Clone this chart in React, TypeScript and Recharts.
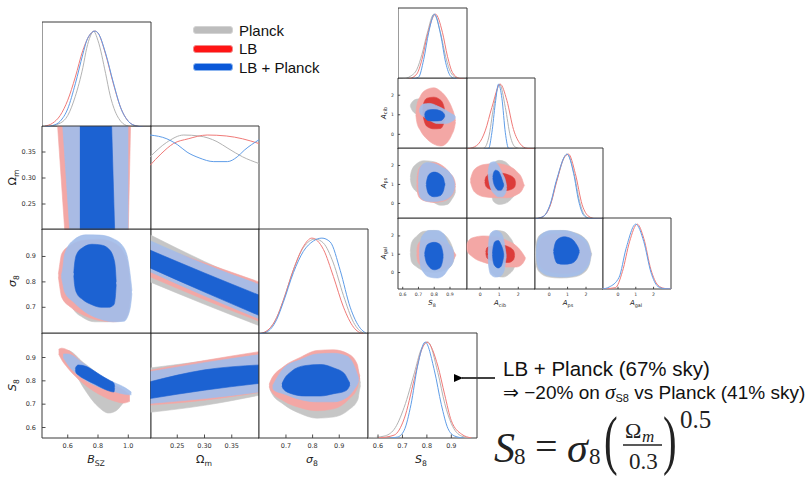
import React from 'react';
import { ComposedChart, XAxis, YAxis, Area, Line, ReferenceArea } from 'recharts';

// ---------- axis ranges & tick labels ----------
const bszTicks = [0.6, 0.8, 1.0];
const omTicks = [0.25, 0.3, 0.35];
const sigTicks = [0.7, 0.8, 0.9];
const s8Ticks = [0.6, 0.7, 0.8, 0.9];
const aTicks = [0, 1, 2];

const bszDom: [number, number] = [0.43, 1.15];
const omDom: [number, number] = [0.2, 0.4];
const sigDom: [number, number] = [0.595, 1.008];
const s8Dom: [number, number] = [0.555, 1.005];
const s8SmallDom: [number, number] = [0.57, 1.008];
const acibDom: [number, number] = [-0.75, 2.88];
const apsDom: [number, number] = [-0.82, 2.92];
const agalDom: [number, number] = [-0.9, 2.98];
const pdfDom: [number, number] = [0, 1.095];

// ---------- 1D marginals (big triangle) ----------
const bszGray = [[0.45,0],[0.55,0.04],[0.6,0.12],[0.65,0.32],[0.7,0.62],[0.725,0.82],[0.75,0.95],[0.77,1.0],[0.8,0.9],[0.85,0.56],[0.88,0.33],[0.9,0.22],[0.95,0.06],[1.0,0.01],[1.05,0]];
const bszRed = [[0.45,0.01],[0.5,0.04],[0.55,0.12],[0.6,0.28],[0.65,0.52],[0.7,0.8],[0.75,0.97],[0.78,1.0],[0.8,0.98],[0.85,0.76],[0.9,0.46],[0.95,0.2],[1.0,0.06],[1.05,0.012],[1.1,0]];
const bszBlue = [[0.45,0],[0.5,0.015],[0.55,0.06],[0.6,0.19],[0.65,0.45],[0.7,0.76],[0.725,0.9],[0.75,0.97],[0.78,1.0],[0.8,0.98],[0.85,0.77],[0.9,0.47],[0.95,0.2],[1.0,0.06],[1.05,0.012],[1.1,0]];

const omGray = [[0.2,0.77],[0.23,0.92],[0.262,1.0],[0.29,0.99],[0.323,0.93],[0.343,0.86],[0.37,0.77],[0.4,0.7]];
const omRed = [[0.2,0.68],[0.22,0.8],[0.243,0.91],[0.27,0.96],[0.305,1.0],[0.34,0.99],[0.37,0.96],[0.4,0.91]];
const omBlue = [[0.2,1.0],[0.231,0.96],[0.25,0.9],[0.268,0.82],[0.29,0.76],[0.317,0.72],[0.342,0.72],[0.36,0.77],[0.373,0.84],[0.4,0.95]];

const sigGray = [[0.595,0],[0.627,0.03],[0.665,0.17],[0.69,0.35],[0.728,0.67],[0.765,0.9],[0.81,0.99],[0.84,0.95],[0.878,0.74],[0.916,0.4],[0.954,0.12],[0.99,0.01],[1.0,0]];
const sigRed = [[0.595,0],[0.627,0.03],[0.665,0.17],[0.69,0.35],[0.728,0.67],[0.765,0.91],[0.797,1.0],[0.841,0.88],[0.878,0.6],[0.916,0.28],[0.954,0.07],[0.99,0]];
const sigBlue = [[0.595,0],[0.627,0.02],[0.665,0.15],[0.69,0.33],[0.728,0.64],[0.765,0.86],[0.803,0.97],[0.835,1.0],[0.866,0.96],[0.904,0.66],[0.941,0.28],[0.979,0.06],[1.0,0.01]];

const s8Gray = [[0.56,0],[0.625,0.02],[0.666,0.09],[0.707,0.32],[0.749,0.68],[0.776,0.92],[0.804,1.0],[0.845,0.68],[0.873,0.36],[0.9,0.15],[0.942,0.02],[0.98,0]];
const s8Red = [[0.6,0],[0.666,0.03],[0.707,0.2],[0.749,0.62],[0.776,0.9],[0.8,1.0],[0.845,0.75],[0.873,0.45],[0.9,0.18],[0.942,0.04],[0.983,0]];
const s8Blue = [[0.65,0],[0.68,0.01],[0.707,0.08],[0.735,0.35],[0.762,0.75],[0.793,1.0],[0.831,0.7],[0.859,0.35],[0.886,0.1],[0.914,0.02],[0.95,0]];

// ---------- 2D contours (big triangle): [x, low, high] ----------
const obRed95 = [[0.533,0.4,0.4],[0.58,0.2,0.4],[1.0,0.2,0.4],[1.015,0.4,0.4]];
const obBlue95 = [[0.567,0.4,0.4],[0.613,0.2,0.4],[1.0,0.2,0.4]];
const obBlue68 = [[0.68,0.2,0.4],[0.89,0.2,0.4],[0.91,0.2,0.2]];

const sbGray95 = [[0.59,0.8,0.81],[0.6,0.75,0.86],[0.63,0.7,0.92],[0.7,0.66,0.95],[0.78,0.643,0.96],[0.86,0.643,0.955],[0.94,0.655,0.93],[0.99,0.69,0.87],[1.005,0.74,0.8],[1.012,0.77,0.775]];
const sbRed95 = [[0.538,0.82,0.83],[0.545,0.79,0.86],[0.56,0.74,0.91],[0.62,0.7,0.945],[0.72,0.665,0.965],[0.81,0.648,0.968],[0.9,0.643,0.955],[0.97,0.65,0.915],[1.0,0.68,0.86],[1.01,0.72,0.8],[1.016,0.755,0.765]];
const sbBlue95 = [[0.558,0.82,0.825],[0.565,0.8,0.845],[0.58,0.76,0.91],[0.64,0.72,0.965],[0.72,0.68,0.985],[0.81,0.655,0.984],[0.9,0.643,0.97],[0.97,0.645,0.935],[1.0,0.67,0.88],[1.018,0.72,0.8],[1.024,0.755,0.765]];
const sbBlue68 = [[0.64,0.825,0.835],[0.645,0.79,0.87],[0.66,0.755,0.91],[0.7,0.73,0.935],[0.76,0.71,0.948],[0.82,0.7,0.945],[0.87,0.7,0.93],[0.905,0.71,0.89],[0.915,0.745,0.85],[0.92,0.79,0.8]];

const osGray95 = [[0.2,0.8,0.985],[0.3,0.712,0.88],[0.4,0.628,0.785]];
const osRed95 = [[0.2,0.82,0.95],[0.3,0.73,0.875],[0.4,0.645,0.8]];
const osBlue95 = [[0.2,0.84,0.962],[0.3,0.745,0.87],[0.4,0.655,0.79]];
const osBlue68 = [[0.2,0.855,0.925],[0.3,0.76,0.835],[0.4,0.668,0.748]];

const kbGray95 = [[0.555,0.915,0.925],[0.6,0.89,0.93],[0.7,0.775,0.88],[0.8,0.69,0.83],[0.87,0.662,0.79],[0.92,0.672,0.765],[0.96,0.7,0.74],[0.98,0.715,0.73]];
const kbRed95 = [[0.54,0.915,0.935],[0.56,0.89,0.94],[0.6,0.855,0.932],[0.7,0.79,0.875],[0.8,0.745,0.825],[0.9,0.715,0.785],[0.97,0.705,0.76],[1.01,0.712,0.74]];
const kbBlue95 = [[0.57,0.9,0.915],[0.6,0.87,0.915],[0.7,0.81,0.876],[0.8,0.775,0.83],[0.9,0.755,0.795],[0.98,0.742,0.77],[1.02,0.74,0.752]];
const kbBlue68 = [[0.65,0.845,0.852],[0.655,0.835,0.86],[0.67,0.825,0.868],[0.72,0.805,0.862],[0.78,0.785,0.84],[0.84,0.765,0.815],[0.88,0.755,0.8],[0.905,0.752,0.79],[0.91,0.768,0.775]];

const koGray95 = [[0.2,0.665,0.855],[0.3,0.695,0.885],[0.4,0.738,0.915]];
const koRed95 = [[0.2,0.696,0.845],[0.3,0.717,0.887],[0.4,0.75,0.925]];
const koBlue95 = [[0.2,0.703,0.839],[0.3,0.724,0.878],[0.4,0.752,0.912]];
const koBlue68 = [[0.2,0.724,0.796],[0.3,0.76,0.847],[0.4,0.789,0.868]];

const ksGray95 = [[0.64,0.765,0.775],[0.645,0.75,0.79],[0.69,0.7,0.84],[0.753,0.66,0.88],[0.816,0.64,0.905],[0.878,0.645,0.91],[0.935,0.675,0.89],[0.97,0.72,0.85],[0.976,0.76,0.81],[0.98,0.78,0.79]];
const ksRed95 = [[0.637,0.775,0.785],[0.642,0.76,0.8],[0.69,0.715,0.86],[0.753,0.685,0.9],[0.816,0.672,0.93],[0.878,0.68,0.933],[0.935,0.72,0.915],[0.968,0.77,0.87],[0.975,0.8,0.83],[0.978,0.81,0.82]];
const ksBlue95 = [[0.65,0.77,0.78],[0.655,0.76,0.79],[0.69,0.745,0.853],[0.753,0.72,0.89],[0.816,0.71,0.915],[0.878,0.71,0.918],[0.93,0.73,0.905],[0.96,0.77,0.853],[0.97,0.79,0.82],[0.973,0.8,0.81]];
const ksBlue68 = [[0.685,0.778,0.787],[0.69,0.765,0.8],[0.72,0.745,0.84],[0.77,0.735,0.865],[0.83,0.735,0.87],[0.88,0.745,0.855],[0.92,0.755,0.83],[0.935,0.77,0.8],[0.94,0.782,0.79]];

// ---------- 1D marginals (small triangle) ----------
const ss8Gray = [[0.6,0],[0.647,0.04],[0.69,0.15],[0.722,0.38],[0.755,0.7],[0.798,1.0],[0.841,0.7],[0.874,0.33],[0.905,0.1],[0.948,0.01],[0.98,0]];
const ss8Red = [[0.64,0],[0.69,0.08],[0.722,0.3],[0.755,0.66],[0.808,1.0],[0.852,0.72],[0.884,0.35],[0.916,0.1],[0.959,0.01],[0.99,0]];
const ss8Blue = [[0.66,0],[0.701,0.03],[0.733,0.3],[0.765,0.72],[0.802,1.0],[0.841,0.68],[0.873,0.25],[0.905,0.04],[0.94,0]];

const acibRed = [[-0.75,0],[-0.53,0.01],[-0.09,0.08],[0.26,0.28],[0.61,0.64],[1.05,1.0],[1.4,0.75],[1.75,0.3],[2.1,0.08],[2.46,0.01],[2.85,0]];
const acibGray = [[-0.2,0],[0.18,0.01],[0.44,0.17],[0.7,0.64],[1.02,1.0],[1.32,0.64],[1.58,0.2],[1.84,0.03],[2.2,0]];
const acibBlue = [[0.2,0],[0.44,0.01],[0.61,0.25],[0.79,0.7],[0.96,1.0],[1.14,0.78],[1.32,0.25],[1.49,0.01],[1.7,0]];

const apsGray = [[-0.8,0],[-0.31,0.04],[0.05,0.21],[0.42,0.6],[0.98,1.0],[1.35,0.7],[1.65,0.27],[1.95,0.05],[2.3,0.005],[2.9,0]];
const apsRed = [[-0.8,0],[-0.67,0.005],[-0.31,0.04],[0.05,0.2],[0.42,0.59],[0.78,0.93],[1.05,1.0],[1.42,0.7],[1.79,0.22],[2.15,0.04],[2.5,0.005],[2.9,0]];
const apsBlue = [[-0.8,0],[-0.31,0.04],[0.05,0.22],[0.42,0.62],[0.97,1.0],[1.33,0.7],[1.6,0.28],[1.87,0.06],[2.2,0.005],[2.9,0]];

const agalRed = [[-0.9,0],[-0.15,0.02],[0.25,0.27],[0.65,0.73],[1.08,1.0],[1.45,0.78],[1.85,0.3],[2.24,0.06],[2.6,0.01],[2.98,0]];
const agalBlue = [[-0.9,0],[-0.5,0.03],[0.06,0.18],[0.45,0.62],[1.0,1.0],[1.45,0.73],[1.85,0.26],[2.24,0.04],[2.6,0.005],[2.98,0]];

// ---------- 2D contours (small triangle) ----------
const acs8Gray95 = [[0.648,1.43,1.47],[0.655,1.3,1.6],[0.69,1.0,1.8],[0.733,0.7,1.82],[0.8,0.3,1.7],[0.86,0.2,1.4],[0.9,0.3,1.0],[0.92,0.6,0.8],[0.925,0.68,0.72]];
const acs8Red95 = [[0.683,1.0,1.1],[0.69,0.6,1.5],[0.712,0.2,1.95],[0.755,-0.25,2.3],[0.797,-0.5,2.38],[0.841,-0.6,2.2],[0.884,-0.4,1.8],[0.91,-0.05,1.4],[0.93,0.4,0.9],[0.935,0.62,0.68]];
const acs8Red68 = [[0.727,1.15,1.25],[0.733,0.8,1.6],[0.755,0.4,1.85],[0.797,0.28,1.9],[0.84,0.3,1.75],[0.862,0.6,1.4],[0.868,0.95,1.05]];
const acs8Blue95 = [[0.706,1.2,1.25],[0.712,1.05,1.4],[0.733,0.9,1.55],[0.77,0.72,1.58],[0.82,0.55,1.45],[0.87,0.55,1.25],[0.91,0.65,1.05],[0.93,0.78,0.95],[0.934,0.85,0.88]];
const acs8Blue68 = [[0.739,0.95,1.0],[0.745,0.8,1.15],[0.765,0.7,1.25],[0.8,0.68,1.27],[0.84,0.7,1.2],[0.862,0.85,1.05],[0.867,0.93,0.97]];

const aps8Gray95 = [[0.648,1.3,1.4],[0.655,1.0,1.7],[0.69,0.6,2.1],[0.733,0.35,2.25],[0.797,0.05,2.2],[0.84,-0.1,2.0],[0.884,-0.05,1.6],[0.91,0.2,1.2],[0.93,0.5,0.8],[0.935,0.62,0.68]];
const aps8Red95 = [[0.689,1.0,1.1],[0.695,0.5,1.6],[0.712,0.25,1.95],[0.755,0.1,2.1],[0.8,0.05,2.15],[0.85,0.1,2.0],[0.9,0.3,1.6],[0.93,0.7,1.2],[0.935,0.92,0.98]];
const aps8Blue95 = [[0.699,1.05,1.15],[0.705,0.5,1.7],[0.72,0.25,2.0],[0.755,0.12,2.15],[0.8,0.1,2.1],[0.85,0.15,1.9],[0.9,0.35,1.6],[0.925,0.7,1.2],[0.93,0.92,0.98]];
const aps8Blue68 = [[0.749,0.97,1.03],[0.755,0.7,1.3],[0.77,0.45,1.55],[0.8,0.35,1.65],[0.835,0.4,1.55],[0.86,0.7,1.3],[0.865,0.9,1.1],[0.869,0.98,1.02]];

const ags8Gray95 = [[0.648,1.05,1.15],[0.655,0.6,1.6],[0.69,0.3,2.0],[0.733,0.1,2.25],[0.797,0.0,2.3],[0.84,0.05,2.2],[0.884,0.2,1.9],[0.91,0.4,1.5],[0.925,0.7,1.1],[0.93,0.88,0.92]];
const ags8Red95 = [[0.689,1.0,1.1],[0.695,0.6,1.5],[0.72,0.35,1.75],[0.77,0.2,1.8],[0.82,0.15,1.75],[0.87,0.25,1.6],[0.91,0.5,1.3],[0.935,0.9,1.0],[0.938,0.94,0.96]];
const ags8Blue95 = [[0.706,1.0,1.1],[0.712,0.4,1.7],[0.733,0.0,2.1],[0.77,-0.25,2.3],[0.82,-0.3,2.3],[0.86,-0.15,2.1],[0.89,0.2,1.6],[0.92,0.6,1.2],[0.925,0.87,0.93]];
const ags8Blue68 = [[0.739,0.97,1.03],[0.745,0.7,1.3],[0.76,0.4,1.55],[0.8,0.15,1.65],[0.835,0.25,1.55],[0.852,0.6,1.2],[0.857,0.87,0.93]];

const apacGray95 = [[0.55,1.0,1.1],[0.6,0.5,1.6],[0.7,0.1,2.1],[1.0,-0.05,2.27],[1.3,0.0,2.2],[1.6,0.2,1.9],[1.85,0.6,1.5],[1.92,1.0,1.1]];
const apacRed95 = [[-0.52,1.15,1.25],[-0.45,0.9,1.5],[-0.3,0.6,1.8],[0.2,0.35,2.05],[0.8,0.3,2.1],[1.4,0.3,2.0],[1.9,0.45,1.7],[2.2,0.7,1.3],[2.3,0.9,1.0],[2.33,0.94,0.96]];
const apacRed68 = [[0.24,1.12,1.18],[0.3,0.9,1.4],[0.5,0.75,1.55],[1.0,0.65,1.6],[1.5,0.7,1.5],[1.8,0.85,1.3],[1.86,1.05,1.1]];
const apacBlue95 = [[0.41,1.5,1.6],[0.45,1.2,1.9],[0.55,0.8,2.15],[0.75,0.5,2.2],[0.95,0.35,2.0],[1.15,0.35,1.6],[1.35,0.6,1.1],[1.39,0.82,0.88]];
const apacBlue68 = [[0.66,1.33,1.38],[0.7,1.1,1.6],[0.8,0.85,1.75],[0.95,0.7,1.7],[1.1,0.7,1.4],[1.2,0.85,1.1],[1.24,0.95,1.0]];

const agacGray95 = [[0.4,0.95,1.05],[0.45,0.5,1.5],[0.6,0.0,2.1],[0.9,-0.2,2.3],[1.2,-0.25,2.25],[1.5,-0.1,2.0],[1.8,0.3,1.4],[1.86,0.8,0.9]];
const agacRed95 = [[-0.74,1.38,1.42],[-0.7,1.2,1.6],[-0.4,0.85,1.9],[0.2,0.55,2.0],[0.8,0.4,1.95],[1.4,0.3,1.75],[1.9,0.3,1.45],[2.2,0.45,1.1],[2.35,0.7,0.85],[2.38,0.76,0.79]];
const agacRed68 = [[0.29,1.05,1.12],[0.35,0.8,1.35],[0.6,0.65,1.45],[1.1,0.55,1.5],[1.5,0.55,1.4],[1.75,0.7,1.2],[1.81,0.92,0.98]];
const agacBlue95 = [[0.41,0.95,1.05],[0.45,0.3,1.7],[0.55,-0.1,2.15],[0.8,-0.25,2.3],[1.05,-0.2,2.2],[1.25,0.1,1.7],[1.33,0.6,1.2],[1.37,0.88,0.92]];
const agacBlue68 = [[0.64,0.98,1.03],[0.68,0.6,1.4],[0.78,0.35,1.7],[0.95,0.25,1.75],[1.1,0.35,1.5],[1.2,0.7,1.2],[1.24,0.93,0.97]];

const agapGray95 = [[-0.76,0.95,1.05],[-0.7,0.4,1.6],[-0.5,0.0,2.05],[0.0,-0.25,2.25],[0.6,-0.3,2.3],[1.3,-0.25,2.2],[1.9,0.0,1.9],[2.2,0.5,1.4],[2.28,0.9,1.1],[2.31,0.98,1.02]];
const agapRed95 = [[-0.6,1.0,1.1],[-0.55,0.6,1.5],[-0.35,0.2,1.9],[0.2,0.0,2.1],[0.9,-0.05,2.1],[1.5,0.05,1.9],[2.0,0.35,1.55],[2.2,0.8,1.2],[2.25,0.98,1.02]];
const agapBlue95 = [[-0.7,1.0,1.1],[-0.65,0.5,1.6],[-0.45,0.05,2.05],[0.1,-0.2,2.3],[0.8,-0.25,2.3],[1.5,-0.15,2.1],[2.0,0.2,1.75],[2.2,0.6,1.3],[2.25,0.9,1.1],[2.28,0.98,1.02]];
const agapBlue68 = [[0.24,1.12,1.18],[0.3,0.8,1.5],[0.45,0.5,1.8],[0.8,0.45,1.95],[1.2,0.5,1.85],[1.5,0.75,1.5],[1.6,1.0,1.3],[1.64,1.12,1.17]];

const legendItems = ['Planck', 'LB', 'LB + Planck'];

// ---------- styles ----------
const FILL = { g95: '#c6c6c6', r95: '#f3a7a5', r68: '#dc3c3a', b95: '#a3bde9', b68: '#1c62d2' };
const LINE = { g: '#b3b3b3', r: '#f07a78', b: '#5f9de8' };
const LEG = [
  { fill: '#bdbdbd', border: '#d3d3d3' },
  { fill: '#ff1414', border: '#f28a8a' },
  { fill: '#0a58d8', border: '#8db5ef' },
];
const AX = '#3a3a3a';

const toRange = (pts: number[][]) => pts.map(([x, lo, hi]) => ({ x, r: [lo, hi] }));
const toLine = (pts: number[][]) => pts.map(([x, y]) => ({ x, y }));

type Cont = { pts: number[][]; c: string; op?: number };
type Curve = { pts: number[][]; c: string };
type Spec = {
  key: string; left: number; top: number; w: number; h: number;
  xd: [number, number]; yd: [number, number]; xt: number[]; yt: number[];
  fx: (v: number) => string; fy: (v: number) => string;
  showX: boolean; showY: boolean; is1d: boolean; small: boolean; linear?: boolean;
  conts?: Cont[]; curves?: Curve[];
};

const f1 = (v: number) => v.toFixed(1);
const f2 = (v: number) => v.toFixed(2);
const f0 = (v: number) => String(Math.round(v));

const cont = (g: number[][] | null, r: number[][] | null, r68: number[][] | null, b: number[][] | null, b68: number[][] | null): Cont[] => {
  const out: Cont[] = [];
  if (g) out.push({ pts: g, c: FILL.g95 });
  if (r) out.push({ pts: r, c: FILL.r95 });
  if (r68) out.push({ pts: r68, c: FILL.r68 });
  if (b) out.push({ pts: b, c: FILL.b95, op: 0.92 });
  if (b68) out.push({ pts: b68, c: FILL.b68 });
  return out;
};
const curves = (g: number[][] | null, r: number[][], b: number[][]): Curve[] => {
  const out: Curve[] = [];
  if (g) out.push({ pts: g, c: LINE.g });
  out.push({ pts: r, c: LINE.r });
  out.push({ pts: b, c: LINE.b });
  return out;
};

const BX = [42, 150, 258, 367, 476];
const BY = [22, 126, 229, 333, 437];
const SX = [398, 466, 534, 602, 670];
const SY = [8, 78, 148, 218, 288];

const bigP = [
  { d: bszDom, t: bszTicks, f: f1 },
  { d: omDom, t: omTicks, f: f2 },
  { d: sigDom, t: sigTicks, f: f1 },
  { d: s8Dom, t: s8Ticks, f: f1 },
];
const smallP = [
  { d: s8SmallDom, t: s8Ticks, f: f1 },
  { d: acibDom, t: aTicks, f: f0 },
  { d: apsDom, t: aTicks, f: f0 },
  { d: agalDom, t: aTicks, f: f0 },
];

const bigContent: Record<string, any> = {
  '00': { curves: curves(bszGray, bszRed, bszBlue) },
  '11': { curves: curves(omGray, omRed, omBlue) },
  '22': { curves: curves(sigGray, sigRed, sigBlue) },
  '33': { curves: curves(s8Gray, s8Red, s8Blue) },
  '10': { conts: cont(null, obRed95, null, obBlue95, obBlue68), linear: true },
  '20': { conts: cont(sbGray95, sbRed95, null, sbBlue95, sbBlue68) },
  '21': { conts: cont(osGray95, osRed95, null, osBlue95, osBlue68) },
  '30': { conts: cont(kbGray95, kbRed95, null, kbBlue95, kbBlue68) },
  '31': { conts: cont(koGray95, koRed95, null, koBlue95, koBlue68) },
  '32': { conts: cont(ksGray95, ksRed95, null, ksBlue95, ksBlue68) },
};
const smallContent: Record<string, any> = {
  '00': { curves: curves(ss8Gray, ss8Red, ss8Blue) },
  '11': { curves: curves(acibGray, acibRed, acibBlue) },
  '22': { curves: curves(apsGray, apsRed, apsBlue) },
  '33': { curves: curves(null, agalRed, agalBlue) },
  '10': { conts: cont(acs8Gray95, acs8Red95, acs8Red68, acs8Blue95, acs8Blue68) },
  '20': { conts: cont(aps8Gray95, aps8Red95, null, aps8Blue95, aps8Blue68) },
  '30': { conts: cont(ags8Gray95, ags8Red95, null, ags8Blue95, ags8Blue68) },
  '21': { conts: cont(apacGray95, apacRed95, apacRed68, apacBlue95, apacBlue68) },
  '31': { conts: cont(agacGray95, agacRed95, agacRed68, agacBlue95, agacBlue68) },
  '32': { conts: cont(agapGray95, agapRed95, null, agapBlue95, agapBlue68) },
};

function buildSpecs(): Spec[] {
  const specs: Spec[] = [];
  const grids = [
    { P: bigP, X: BX, Y: BY, content: bigContent, small: false, name: 'b' },
    { P: smallP, X: SX, Y: SY, content: smallContent, small: true, name: 's' },
  ];
  grids.forEach((g) => {
    for (let i = 0; i < 4; i++) {
      for (let j = 0; j <= i; j++) {
        const is1d = i === j;
        const c: any = g.content[`${i}${j}`] || {};
        specs.push({
          key: `${g.name}${i}${j}`,
          left: g.X[j], top: g.Y[i], w: g.X[j + 1] - g.X[j], h: g.Y[i + 1] - g.Y[i],
          xd: g.P[j].d, yd: is1d ? pdfDom : g.P[i].d, xt: g.P[j].t, yt: is1d ? [] : g.P[i].t,
          fx: g.P[j].f, fy: is1d ? f1 : g.P[i].f,
          showX: i === 3, showY: j === 0 && !is1d, is1d, small: g.small,
          linear: c.linear, conts: c.conts, curves: c.curves,
        });
      }
    }
  });
  return specs;
}

// inward tick marks (and optional labels) drawn by the axis' own tick renderer
function makeTick(side: 'b' | 't' | 'l' | 'r', small: boolean, label: boolean, fmt: (v: number) => string) {
  const tl = small ? 2.2 : 3.5;
  const fs = small ? 4.6 : 6.5;
  return (p: any) => {
    const x = Number(p.x);
    const y = Number(p.y);
    const v = p.payload ? p.payload.value : 0;
    const st = { stroke: AX, strokeWidth: 0.9 };
    const tx = { fontSize: fs, fill: '#333', fontFamily: 'DejaVu Sans' } as any;
    if (side === 'b') {
      return (
        <g>
          <line x1={x} y1={y} x2={x} y2={y - tl} {...st} />
          {label && <text x={x} y={y + (small ? 5.6 : 7.6)} textAnchor="middle" dominantBaseline="central" {...tx}>{fmt(v)}</text>}
        </g>
      );
    }
    if (side === 't') return <line x1={x} y1={y} x2={x} y2={y + tl} {...st} />;
    if (side === 'l') {
      return (
        <g>
          <line x1={x} y1={y} x2={x + tl} y2={y} {...st} />
          {label && <text x={x - (small ? 4 : 6)} y={y} textAnchor="end" dominantBaseline="central" {...tx}>{fmt(v)}</text>}
        </g>
      );
    }
    return <line x1={x} y1={y} x2={x - tl} y2={y} {...st} />;
  };
}

function Panel({ s }: { s: Spec }) {
  const ml = s.showY ? (s.small ? 16 : 30) : 0;
  const mb = s.showX ? (s.small ? 10 : 14) : 0;
  const common = { tickSize: 0, tickMargin: 0, tickLine: false, axisLine: false, interval: 0 as const, allowDataOverflow: true };
  return (
    <div style={{ position: 'absolute', left: s.left - ml - 0.5, top: s.top - 1.5 }}>
      <ComposedChart width={s.w + ml + 2} height={s.h + mb + 2} margin={{ top: 1, right: 1, bottom: 0, left: 0 }}>
        <XAxis xAxisId="b" type="number" dataKey="x" domain={s.xd} ticks={s.xt} orientation="bottom" height={mb}
          tick={makeTick('b', s.small, s.showX, s.fx)} {...common} />
        <XAxis xAxisId="t" type="number" dataKey="x" domain={s.xd} ticks={s.xt} orientation="top" height={0}
          tick={s.is1d ? false : makeTick('t', s.small, false, s.fx)} {...common} />
        <YAxis yAxisId="l" type="number" domain={s.yd} ticks={s.is1d ? undefined : s.yt} orientation="left" width={ml}
          tick={s.is1d ? false : makeTick('l', s.small, s.showY, s.fy)} {...common} />
        <YAxis yAxisId="r" type="number" domain={s.yd} ticks={s.is1d ? undefined : s.yt} orientation="right" width={0}
          tick={s.is1d ? false : makeTick('r', s.small, false, s.fy)} {...common} />
        {(s.conts || []).map((c, k) => (
          <Area key={`a${k}`} xAxisId="b" yAxisId="l" data={toRange(c.pts)} dataKey="r"
            type={s.linear ? 'linear' : 'monotone'} fill={c.c} fillOpacity={c.op ?? 1}
            stroke={c.c} strokeWidth={0.6} dot={false} activeDot={false} isAnimationActive={false} />
        ))}
        {(s.curves || []).map((c, k) => (
          <Line key={`l${k}`} xAxisId="b" yAxisId="l" data={toLine(c.pts)} dataKey="y" type="monotone"
            stroke={c.c} strokeWidth={1} dot={false} activeDot={false} isAnimationActive={false} />
        ))}
        <ReferenceArea xAxisId="b" yAxisId="l" x1={s.xd[0]} x2={s.xd[1]} y1={s.yd[0]} y2={s.yd[1]}
          fill="none" fillOpacity={0} stroke={AX} strokeWidth={1} strokeOpacity={1} ifOverflow="visible" />
      </ComposedChart>
    </div>
  );
}

const MF = 'DejaVu Sans';

function Sym({ x, y, main, sub, italic, size, rotate }: { x: number; y: number; main: string; sub: string; italic: boolean; size: number; rotate?: boolean }) {
  const t = rotate ? `translate(${x},${y}) rotate(-90)` : `translate(${x},${y})`;
  return (
    <text transform={t} textAnchor="middle" fontFamily={MF} fontSize={size} fill="#222">
      <tspan fontStyle={italic ? 'italic' : 'normal'}>{main}</tspan>
      <tspan fontSize={size * 0.7} dy={size * 0.25}>{sub}</tspan>
    </text>
  );
}

export default function App() {
  const specs = buildSpecs();
  return (
    <div style={{ position: 'fixed', left: 0, top: 0, width: 810, height: 477, background: '#fff', overflow: 'hidden', fontFamily: '"Liberation Sans", Arial, sans-serif' }}>
      <svg width={810} height={477} style={{ position: 'absolute', left: 0, top: 0 }}>
        <defs>
          <marker id="ah" markerWidth="9" markerHeight="8" refX="1" refY="4" orient="auto" markerUnits="userSpaceOnUse">
            <path d="M9,0 L0,4 L9,8 z" fill="#000" />
          </marker>
        </defs>
        <Sym x={96} y={463} main="B" sub="SZ" italic size={11} />
        <Sym x={204} y={463} main="Ω" sub="m" italic={false} size={11} />
        <Sym x={312} y={463} main="σ" sub="8" italic size={11} />
        <Sym x={421} y={463} main="S" sub="8" italic size={11} />
        <Sym x={16} y={177.5} main="Ω" sub="m" italic={false} size={11} rotate />
        <Sym x={16} y={281} main="σ" sub="8" italic size={11} rotate />
        <Sym x={16} y={385} main="S" sub="8" italic size={11} rotate />
        <Sym x={432} y={305} main="S" sub="8" italic size={7} />
        <Sym x={500} y={305} main="A" sub="cib" italic size={7} />
        <Sym x={568} y={305} main="A" sub="ps" italic size={7} />
        <Sym x={636} y={305} main="A" sub="gal" italic size={7} />
        <Sym x={385.5} y={113} main="A" sub="cib" italic size={7} rotate />
        <Sym x={385.5} y={183} main="A" sub="ps" italic size={7} rotate />
        <Sym x={385.5} y={253} main="A" sub="gal" italic size={7} rotate />
        <line x1={495} y1={378} x2={462} y2={378} stroke="#000" strokeWidth={1.3} markerEnd="url(#ah)" />
        <g fontFamily="Liberation Serif, DejaVu Serif, serif" fill="#222">
          <text x={494} y={462} fontSize={42} fontStyle="italic">S</text>
          <text x={514} y={464} fontSize={23}>8</text>
          <text x={535} y={460} fontSize={40}>=</text>
          <text x={567} y={462} fontSize={42} fontStyle="italic">σ</text>
          <text x={589} y={464} fontSize={23}>8</text>
          <text transform="translate(604,462) scale(0.62,1)" fontSize={66}>(</text>
          <text x={625} y={438} fontSize={22}>Ω</text>
          <text x={642} y={442} fontSize={17} fontStyle="italic">m</text>
          <line x1={623} y1={445} x2={662} y2={445} stroke="#222" strokeWidth={1.5} />
          <text x={629} y={469} fontSize={23}>0.3</text>
          <text transform="translate(663,462) scale(0.62,1)" fontSize={66}>)</text>
          <text x={680} y={428} fontSize={25}>0.5</text>
        </g>
      </svg>
      {specs.map((s) => <Panel key={s.key} s={s} />)}
      {legendItems.map((name, k) => (
        <div key={name} style={{ position: 'absolute', left: 193, top: [30, 48.5, 67][k] - 9, height: 18, display: 'flex', alignItems: 'center' }}>
          <div style={{ width: 38, height: 6, background: LEG[k].fill, border: `1.5px solid ${LEG[k].border}`, borderRadius: 3 }} />
          <span style={{ marginLeft: 6, fontSize: 15, color: '#111', whiteSpace: 'nowrap' }}>{name}</span>
        </div>
      ))}
      <div style={{ position: 'absolute', left: 503, top: 357, fontSize: 20.5, lineHeight: '24px', color: '#111', whiteSpace: 'nowrap' }}>
        LB + Planck (67% sky)
      </div>
      <div style={{ position: 'absolute', left: 503, top: 380, fontSize: 19, lineHeight: '24px', color: '#111', whiteSpace: 'nowrap' }}>
        ⇒ −20% on <i style={{ fontFamily: '"Liberation Serif", serif', fontSize: 21 }}>σ</i><sub style={{ fontSize: 11, verticalAlign: '-3px' }}>S8</sub> vs Planck (41% sky)
      </div>
    </div>
  );
}
